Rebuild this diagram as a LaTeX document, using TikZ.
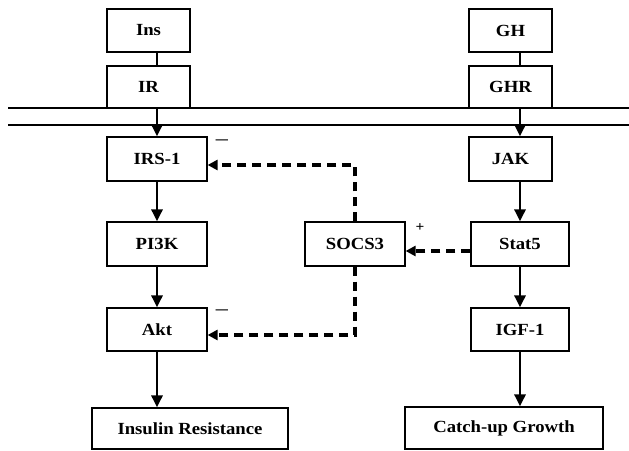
\documentclass[tikz,border=0pt]{standalone}
\usepackage{fontspec}
\setmainfont{Liberation Serif}[FakeStretch=1.1]
\usetikzlibrary{arrows.meta}
\begin{document}
\begin{tikzpicture}[x=1pt,y=-1pt,
  box/.style={draw, line width=1.2pt, inner sep=0pt, font=\fontsize{17}{17}\selectfont\bfseries},
  flow/.style={line width=2.8pt, -{Triangle[length=12pt,width=11pt]}},
  link/.style={line width=1.2pt},
  inhib/.style={line width=3.4pt, dash pattern=on 9pt off 6pt, -{Triangle[length=10pt,width=10pt]}},
  memb/.style={line width=1.6pt},
  sign/.style={inner sep=0pt}]
\useasboundingbox (0,0) rectangle (629,450);
% boxes, left column
\node[box, minimum width=83pt, minimum height=43pt] (Ins) at (148.5,30.5) {Ins};
\node[box, minimum width=83pt, minimum height=42pt] (IR) at (148.5,87) {IR};
\node[box, minimum width=100pt, minimum height=44pt] (IRS) at (157,159) {IRS-1};
\node[box, minimum width=100pt, minimum height=44pt] (PI3K) at (157,244) {PI3K};
\node[box, minimum width=100pt, minimum height=43pt] (Akt) at (157,329.5) {Akt};
\node[box, minimum width=196pt, minimum height=41pt] (InsRes) at (190,428.5) {Insulin Resistance};
% boxes, right column
\node[box, minimum width=83pt, minimum height=43pt] (GH) at (510.5,30.5) {GH};
\node[box, minimum width=83pt, minimum height=42pt] (GHR) at (510.5,87) {GHR};
\node[box, minimum width=83pt, minimum height=44pt] (JAK) at (510.5,159) {JAK};
\node[box, minimum width=98pt, minimum height=44pt] (Stat5) at (520,244) {Stat5};
\node[box, minimum width=98pt, minimum height=43pt] (IGF) at (520,329.5) {IGF-1};
\node[box, minimum width=198pt, minimum height=42pt] (Catch) at (504,428) {Catch-up Growth};
% middle
\node[box, minimum width=100pt, minimum height=44pt] (SOCS) at (355,244) {SOCS3};
% membrane
\coordinate (ML1) at (8,108);
\coordinate (MR1) at (629,108);
\coordinate (ML2) at (8,125);
\coordinate (MR2) at (629,125);
\draw[memb] (ML1) -- (MR1);
\draw[memb] (ML2) -- (MR2);
% left pathway
\draw[link] (IRS.north |- Ins.south) -- (IRS.north |- IR.north);
\draw[flow] (IRS.north |- IR.south) -- (IRS.north);
\draw[flow] (IRS.south) -- (PI3K.north);
\draw[flow] (PI3K.south) -- (Akt.north);
\draw[flow] (Akt.south) -- (Akt.south |- InsRes.north);
% right pathway
\draw[link] (Stat5.north |- GH.south) -- (Stat5.north |- GHR.north);
\draw[flow] (Stat5.north |- GHR.south) -- (Stat5.north |- JAK.north);
\draw[flow] (Stat5.north |- JAK.south) -- (Stat5.north);
\draw[flow] (Stat5.south) -- (IGF.north);
\draw[flow] (IGF.south) -- (IGF.south |- Catch.north);
% SOCS3 feedback
\draw[inhib] ([yshift=-7pt]Stat5.west) -- ([yshift=-7pt]SOCS.east);
\draw[inhib] (SOCS.north) |- ([yshift=-6pt]IRS.east);
\draw[inhib] (SOCS.south) |- ([yshift=-5.5pt]Akt.east);
% signs
\node[sign, font=\fontsize{22}{22}\selectfont] (m1) at (222,143) {–};
\node[sign, font=\fontsize{22}{22}\selectfont] (m2) at (222,313) {–};
\node[sign, font=\fontsize{14}{14}\selectfont\bfseries] (p1) at (420,228) {+};
\end{tikzpicture}
\end{document}
